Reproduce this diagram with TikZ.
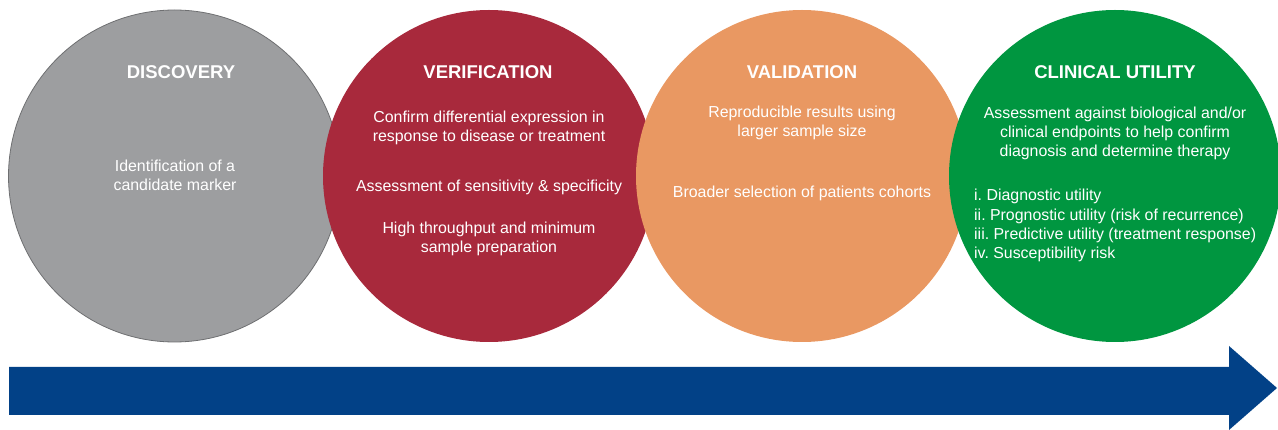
\documentclass[tikz,border=0pt]{standalone}
\usepackage{fontspec}
\setmainfont{Liberation Sans}
\usetikzlibrary{positioning}
\frenchspacing

\definecolor{discgray}{HTML}{9D9EA0}
\definecolor{discline}{HTML}{6E6F71}
\definecolor{verired}{HTML}{A8293C}
\definecolor{valorange}{HTML}{E99862}
\definecolor{utilgreen}{HTML}{009640}
\definecolor{timeblue}{HTML}{024187}

% base of a multi-line node is the baseline of its last line
\tikzset{
  phase/.style={circle,minimum size=332pt,inner sep=0pt},
  phasetitle/.style={anchor=base,text=white,font=\fontsize{18.5}{22}\selectfont\bfseries},
  phasetext/.style={anchor=base,text=white,align=center,font=\fontsize{15.9}{19.3}\selectfont},
  phaselist/.style={anchor=base west,text=white,align=left,inner sep=0pt,font=\fontsize{15.9}{19.4}\selectfont}
}

\begin{document}
\begin{tikzpicture}[x=1pt,y=-1pt]
    \useasboundingbox (0,0) rectangle (1278,430);

    % The four phases, each one overlapping the previous
    \node[phase,fill=discgray,draw=discline,line width=0.8pt] (discovery) at (174.5,176) {};
    \node[phase,fill=verired] (verification) at (489,176) {};
    \node[phase,fill=valorange] (validation) at (802,176) {};
    \node[phase,fill=utilgreen] (utility) at (1115,176) {};

    % Titles
    \node[phasetitle] (t_discovery) at (181,79) {DISCOVERY};
    \node[phasetitle] (t_verification) at (488,79) {VERIFICATION};
    \node[phasetitle] (t_validation) at (802,79) {VALIDATION};
    \node[phasetitle] (t_utility) at (1115,79) {CLINICAL UTILITY};

    % Discovery
    \node[phasetext] (d_marker) at (175,191) {Identification of a\\candidate marker};

    % Verification
    \node[phasetext] (v_expr) at (489,142) {Confirm differential expression in\\response to disease or treatment};
    \node[phasetext] (v_sens) at (489,192) {Assessment of sensitivity \& specificity};
    \node[phasetext] (v_prep) at (489,253) {High throughput and minimum\\sample preparation};

    % Validation
    \node[phasetext] (a_repro) at (802,137) {Reproducible results using\\larger sample size};
    \node[phasetext] (a_cohort) at (802,198) {Broader selection of patients cohorts};

    % Clinical utility
    \node[phasetext] (u_assess) at (1115,157) {Assessment against biological and/or\\clinical endpoints to help confirm\\diagnosis and determine therapy};
    \node[phaselist] (u_list) at (974,259) {i. Diagnostic utility\\ii. Prognostic utility (risk of recurrence)\\iii. Predictive utility (treatment response)\\iv. Susceptibility risk};

    % Time line
    \fill[timeblue] (9,367) -- (1229,367) -- (1229,346) -- (1277,388)
      -- (1229,430) -- (1229,415) -- (9,415) -- cycle;
\end{tikzpicture}
\end{document}
